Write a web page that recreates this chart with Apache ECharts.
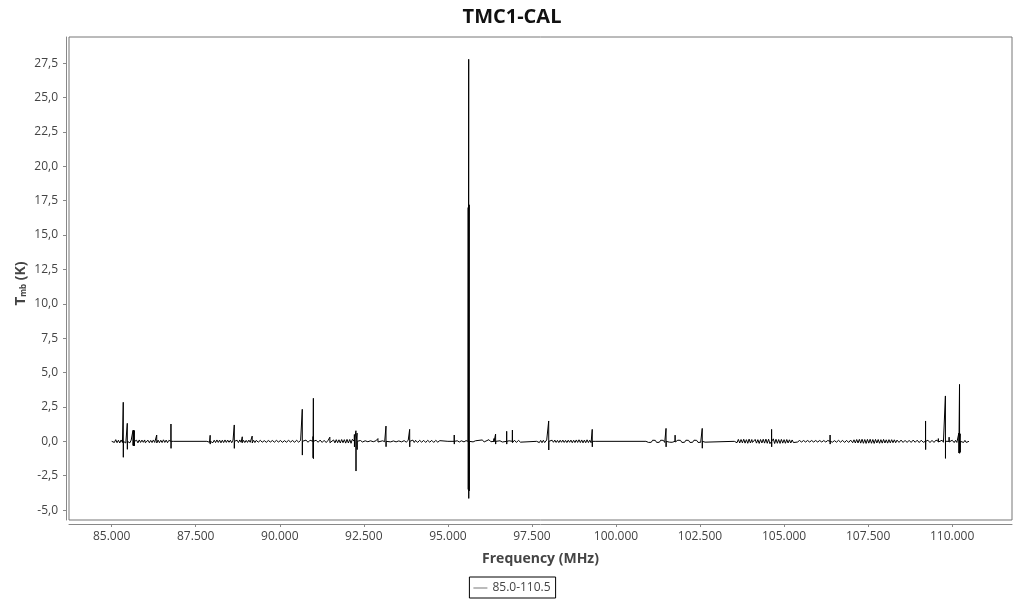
<!DOCTYPE html>
<html>
<head>
<meta charset="utf-8">
<script src="https://cdn.jsdelivr.net/npm/echarts@6/dist/echarts.min.js"></script>
<style>
  html, body { margin: 0; padding: 0; background: #fff; }
  #chart { width: 1024px; height: 600px; }
</style>
</head>
<body>
<div id="chart"></div>
<script>
// ---- data ----
const chartTitle = 'TMC1-CAL';
const seriesName = '85.0-110.5';

// baseline (noise) channels: [frequency MHz, Tmb K]
const baselineA = [
  [85.00,0.00],[85.04,0.09],[85.08,-0.08],[85.12,0.12],[85.16,-0.10],[85.20,0.08],[85.24,-0.12],
  [85.28,0.10],[85.32,-0.09],[85.38,0.11],[85.42,-0.12],[85.50,0.10],[85.54,-0.11],[85.58,0.09],
  [85.70,-0.10],[85.74,0.08],[85.78,-0.11],[85.82,0.10],[85.86,-0.08],[85.90,0.09],[85.94,-0.07],
  [85.98,0.10],[86.04,-0.09],[86.08,0.08],[86.12,-0.10],[86.16,0.07],[86.20,-0.09],[86.24,0.10],
  [86.28,-0.08],[86.38,0.09],[86.42,-0.10],[86.46,0.08],[86.50,-0.09],[86.54,0.11],[86.58,-0.08],
  [86.62,0.09],[86.66,-0.10],[86.70,0.07],[86.74,-0.06],[86.80,0.05],[86.83,0.00]
];
const baselineB = [
  [87.83,0.00],[87.87,0.08],[87.91,-0.07],[87.97,0.09],[88.01,-0.10],[88.05,0.08],[88.09,-0.09],
  [88.13,0.10],[88.17,-0.08],[88.21,0.09],[88.25,-0.11],[88.29,0.08],[88.33,-0.09],[88.37,0.10],
  [88.41,-0.08],[88.45,0.09],[88.49,-0.07],[88.53,0.08],[88.57,-0.10],[88.61,0.09],[88.69,-0.10],
  [88.73,0.08],[88.77,-0.09],[88.81,0.10],[88.85,-0.07],[88.92,0.08],[88.96,-0.09],[89.00,0.07],
  [89.04,-0.08],[89.08,0.09],[89.12,-0.07],[89.22,0.08],[89.26,-0.09],[89.30,0.07],[89.36,-0.06],
  [89.42,0.07],[89.48,-0.06],[89.54,0.05],[89.60,-0.07],[89.66,0.06],[89.72,-0.05],[89.78,0.06],
  [89.84,-0.06],[89.90,0.07],[89.96,-0.05],[90.02,0.06],[90.08,-0.07],[90.14,0.05],[90.20,-0.06],
  [90.26,0.07],[90.32,-0.05],[90.38,0.06],[90.44,-0.07],[90.50,0.08],[90.56,-0.06],[90.62,0.07],
  [90.72,-0.08],[90.78,0.09],[90.84,-0.07],[90.90,0.08],[91.04,-0.09],[91.08,0.08],[91.14,-0.07],
  [91.20,0.09],[91.26,-0.08],[91.32,0.07],[91.38,-0.09],[91.44,0.08],[91.54,-0.07],[91.60,0.10],
  [91.64,-0.11],[91.68,0.12],[91.72,-0.10],[91.76,0.11],[91.80,-0.12],[91.84,0.13],[91.88,-0.10],
  [91.92,0.12],[91.96,-0.13],[92.00,0.14],[92.04,-0.12],[92.08,0.13],[92.12,-0.14],[92.16,0.15],
  [92.34,-0.10],[92.40,0.06],[92.46,-0.05],[92.54,0.04],[92.62,-0.03],[92.70,0.04],[92.78,-0.03],
  [92.86,0.04],[92.98,-0.03],[93.06,0.04],[93.12,-0.03],[93.22,0.05],[93.30,-0.04],[93.38,0.03],
  [93.46,-0.04],[93.54,0.03],[93.62,-0.04],[93.70,0.05],[93.76,-0.06],[93.82,0.07],[93.92,-0.08],
  [93.96,0.09],[94.00,-0.08],[94.04,0.07],[94.10,-0.08],[94.16,0.07],[94.22,-0.06],[94.28,0.07],
  [94.34,-0.08],[94.40,0.07],[94.46,-0.06],[94.52,0.07],[94.58,-0.08],[94.64,0.07],[94.70,-0.06],
  [94.76,0.05],[94.81,0.00]
];
const baselineC = [
  [95.00,0.00],[95.28,0.04],[95.34,-0.05],[95.40,0.04],[95.48,-0.04],[95.54,0.05],[95.75,-0.04],
  [95.82,0.04],[96.02,0.10],[96.08,-0.04],[96.22,0.12],[96.28,-0.03],[96.55,0.04],[96.62,-0.05],
  [96.82,0.04],[96.98,0.08],[97.04,-0.08],[97.10,0.07],[97.16,-0.06],[97.20,0.00],[97.64,0.00]
];
const baselineD = [
  [97.68,0.08],[97.72,-0.09],[97.76,0.07],[97.80,-0.10],[97.84,0.08],[97.88,-0.09],[97.94,0.10],
  [98.06,-0.09],[98.10,0.08],[98.14,-0.07],[98.18,0.09],[98.22,-0.08],[98.26,0.07],[98.30,-0.09],
  [98.34,0.08],[98.38,-0.07],[98.42,0.09],[98.46,-0.08],[98.50,0.07],[98.54,-0.09],[98.58,0.08],
  [98.62,-0.07],[98.66,0.09],[98.70,-0.10],[98.74,0.08],[98.78,-0.09],[98.82,0.10],[98.86,-0.08],
  [98.90,0.11],[98.94,-0.09],[98.98,0.10],[99.02,-0.11],[99.06,0.09],[99.10,-0.10],[99.14,0.11],
  [99.18,-0.09],[99.22,0.08],[99.26,-0.10],[99.34,0.08],[99.38,0.00]
];
const baselineE = [
  [100.89,0.00],[100.93,0.07],[100.97,-0.08],[101.01,0.06],[101.05,-0.07],[101.09,0.08],[101.13,-0.06],
  [101.17,0.07],[101.21,-0.08],[101.25,0.06],[101.29,-0.07],[101.33,0.08],[101.37,-0.06],[101.41,0.07],
  [101.45,-0.08],[101.55,0.07],[101.59,-0.06],[101.63,0.08],[101.67,-0.07],[101.72,0.06],[101.80,-0.07],
  [101.84,0.08],[101.88,-0.06],[101.92,0.07],[101.96,-0.08],[102.00,0.06],[102.04,-0.07],[102.08,0.08],
  [102.12,-0.06],[102.16,0.07],[102.20,-0.08],[102.24,0.06],[102.28,-0.07],[102.32,0.08],[102.36,-0.06],
  [102.40,0.07],[102.44,-0.08],[102.48,0.06],[102.52,-0.07],[102.61,0.08],[102.65,-0.06],[102.70,0.00]
];
const baselineF = [
  [103.52,0.00],[103.56,0.12],[103.60,-0.10],[103.64,0.14],[103.68,-0.12],[103.72,0.13],[103.76,-0.11],
  [103.80,0.15],[103.84,-0.13],[103.88,0.12],[103.92,-0.14],[103.96,0.16],[104.00,-0.12],[104.04,0.13],
  [104.10,-0.11],[104.14,0.14],[104.18,-0.13],[104.22,0.12],[104.26,-0.15],[104.30,0.13],[104.34,-0.12],
  [104.38,0.15],[104.42,-0.13],[104.46,0.16],[104.50,-0.14],[104.54,0.15],[104.58,-0.17],[104.68,0.18],
  [104.72,-0.16],[104.76,0.15],[104.80,-0.14],[104.84,0.13],[104.88,-0.15],[104.92,0.14],[104.96,-0.13],
  [105.00,0.12],[105.04,-0.14],[105.08,0.13],[105.12,-0.12],[105.16,0.11],[105.20,-0.12],[105.24,0.10],
  [105.28,-0.09],[105.32,0.05],[105.40,-0.05],[105.46,0.06],[105.52,-0.05],[105.58,0.06],[105.64,-0.05],
  [105.70,0.06],[105.76,-0.05],[105.82,0.06],[105.88,-0.05],[105.94,0.06],[106.00,-0.05],[106.06,0.06],
  [106.12,-0.05],[106.18,0.06],[106.24,-0.05],[106.30,0.06],[106.44,-0.06],[106.50,0.05],[106.56,-0.06],
  [106.62,0.07],[106.68,-0.06],[106.74,0.07],[106.80,-0.08],[106.86,0.07],[106.92,-0.08],[106.98,0.09],
  [107.04,-0.10],[107.08,0.11],[107.12,-0.12],[107.16,0.13],[107.20,-0.12],[107.24,0.14],[107.28,-0.13],
  [107.32,0.15],[107.36,-0.14],[107.40,0.13],[107.44,-0.15],[107.48,0.14],[107.52,-0.13],[107.56,0.15],
  [107.60,-0.14],[107.64,0.13],[107.68,-0.15],[107.72,0.14],[107.76,-0.12],[107.80,0.13],[107.84,-0.14],
  [107.88,0.12],[107.92,-0.13],[107.96,0.14],[108.00,-0.12],[108.04,0.11],[108.08,-0.13],[108.12,0.12],
  [108.16,-0.11],[108.20,0.12],[108.24,-0.10],[108.28,0.11],[108.32,-0.10],[108.36,0.09],[108.42,-0.08],
  [108.48,0.09],[108.54,-0.08],[108.60,0.07],[108.66,-0.08],[108.72,0.07],[108.78,-0.08],[108.84,0.09],
  [108.90,-0.07],[108.96,0.08],[109.02,-0.09],[109.08,0.08],[109.14,-0.07],[109.28,0.08],[109.34,-0.09],
  [109.40,0.07],[109.46,-0.08],[109.52,0.09],[109.64,-0.07],[109.70,0.08],[109.74,-0.07],[109.86,0.08],
  [109.96,-0.07],[110.00,0.08],[110.06,-0.09],[110.10,0.07],[110.14,-0.08],[110.30,0.09],[110.34,-0.08],
  [110.38,0.07],[110.42,-0.08],[110.46,0.06],[110.50,0.00]
];

// spectral lines: frequency (MHz), peak Tmb (K), trough Tmb (K)
const lineFreq = [85.345,85.465,85.635,85.655,85.675,86.00,86.34,86.764,87.93,88.647,88.885,89.18,
  90.67,90.99,91.00,91.49,92.22,92.266,92.30,92.92,93.16,93.864,95.19,95.605,95.62,95.635,
  96.37,96.42,96.75,96.92,98.00,99.295,101.49,101.76,102.567,104.06,104.63,106.37,109.21,109.59,
  109.80,109.91,110.20,110.22,110.24];
const linePeak = [2.84,1.31,0.80,0.82,0.78,0.18,0.46,1.26,0.44,1.19,0.33,0.38,
  2.33,0.35,3.13,0.30,0.50,0.77,0.60,0.20,1.11,0.87,0.46,17.0,27.78,17.2,
  0.20,0.53,0.73,0.82,1.48,0.87,0.94,0.45,0.94,0.22,0.87,0.46,1.48,0.20,
  3.30,0.30,0.60,4.14,0.55];
const lineTrough = [-1.16,-0.58,-0.30,-0.34,-0.32,-0.10,-0.12,-0.51,-0.20,-0.51,-0.10,-0.12,
  -1.00,-1.20,-1.26,-0.10,-0.40,-2.16,-0.60,-0.05,-0.39,-0.40,-0.20,-3.5,-4.15,-3.6,
  -0.05,-0.20,-0.20,-0.10,-0.63,-0.40,-0.40,-0.05,-0.50,-0.08,-0.40,-0.20,-0.60,-0.05,
  -1.24,-0.05,-0.85,-0.87,-0.80];

const xTicks = [85, 87.5, 90, 92.5, 95, 97.5, 100, 102.5, 105, 107.5, 110];
const yTicks = [-5, -2.5, 0, 2.5, 5, 7.5, 10, 12.5, 15, 17.5, 20, 22.5, 25, 27.5];

// ---- build the series: each line drawn as a narrow up/down stroke from the baseline ----
const points = [].concat(baselineA, baselineB, baselineC, baselineD, baselineE, baselineF);
lineFreq.forEach((f, i) => {
  points.push([f - 0.003, 0]);
  points.push([f - 0.001, linePeak[i]]);
  points.push([f + 0.001, lineTrough[i]]);
  points.push([f + 0.003, 0]);
});
points.sort((a, b) => a[0] - b[0]);

const FONT = '"Open Sans", "Noto Sans", sans-serif';
const chart = echarts.init(document.getElementById('chart'));
chart.setOption({
  animation: false,
  backgroundColor: '#fff',
  title: {
    text: chartTitle,
    left: 'center',
    top: 2,
    textStyle: { fontFamily: FONT, fontSize: 20, fontWeight: 'bold', color: '#111' }
  },
  legend: {
    bottom: 2,
    left: 'center',
    data: [{ name: seriesName, icon: 'path://M0,0 H14 V1 H0 Z', itemStyle: { color: '#777' } }],
    borderColor: '#000',
    borderWidth: 1,
    borderRadius: 0,
    padding: [5, 5, 4, 4],
    itemWidth: 14,
    itemHeight: 1,
    itemGap: 4,
    textStyle: { fontFamily: FONT, fontSize: 12, color: '#444' }
  },
  grid: {
    left: 69, right: 12, top: 37, bottom: 80,
    show: true, borderColor: '#777', borderWidth: 1, backgroundColor: 'transparent'
  },
  xAxis: {
    type: 'value',
    min: 83.73,
    max: 111.78,
    offset: 4,
    name: 'Frequency (MHz)',
    nameLocation: 'middle',
    nameGap: 28,
    nameMoveOverlap: false,
    nameTextStyle: { fontFamily: FONT, fontSize: 14, fontWeight: 'bold', color: '#444' },
    axisLine: { onZero: false, lineStyle: { color: '#888', width: 1 } },
    axisTick: { show: true, length: 3, lineStyle: { color: '#888' }, customValues: xTicks },
    axisLabel: {
      customValues: xTicks,
      margin: 7,
      fontFamily: FONT, fontSize: 12, color: '#444',
      formatter: v => v.toFixed(3)
    },
    splitLine: { show: false }
  },
  yAxis: {
    type: 'value',
    min: -5.72,
    max: 29.4,
    offset: 3,
    name: '{t|T}{s|mb}{k| (K)}',
    nameLocation: 'middle',
    nameGap: 38,
    nameMoveOverlap: false,
    nameTextStyle: {
      fontFamily: FONT, fontSize: 14, fontWeight: 'bold', color: '#444',
      padding: [0, 10, 0, 0],
      rich: {
        t: { fontFamily: FONT, fontSize: 15, fontWeight: 'bold', color: '#444', verticalAlign: 'bottom', lineHeight: 20 },
        s: { fontFamily: FONT, fontSize: 8, fontWeight: 'bold', color: '#444', verticalAlign: 'bottom', lineHeight: 14 },
        k: { fontFamily: FONT, fontSize: 14, fontWeight: 'bold', color: '#444', verticalAlign: 'bottom', lineHeight: 20 }
      }
    },
    axisLine: { show: true, onZero: false, lineStyle: { color: '#888', width: 1 } },
    axisTick: { show: true, length: 3, lineStyle: { color: '#888' }, customValues: yTicks },
    axisLabel: {
      customValues: yTicks,
      margin: 8,
      fontFamily: FONT, fontSize: 12, color: '#444',
      formatter: v => v.toFixed(1).replace('.', ',')
    },
    splitLine: { show: false }
  },
  series: [{
    name: seriesName,
    type: 'line',
    data: points,
    smooth: false,
    showSymbol: false,
    symbol: 'none',
    sampling: null,
    lineStyle: { color: '#000', width: 1, join: 'bevel' },
    itemStyle: { color: '#777' }
  }]
});
</script>
</body>
</html>
